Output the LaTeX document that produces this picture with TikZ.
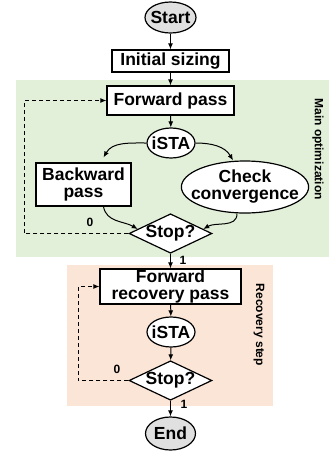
\documentclass[tikz,border=0pt]{standalone}
\usepackage{fontspec}
\setmainfont{Liberation Sans}
\usetikzlibrary{calc,arrows.meta,shapes.geometric}
\definecolor{mainbg}{RGB}{226,240,217}
\definecolor{recbg}{RGB}{251,229,214}
\definecolor{termgray}{RGB}{224,224,224}
\tikzset{
  box/.style={draw, line width=1.2pt, fill=white, inner sep=0pt, align=center, font=\fontsize{17.5}{17}\selectfont\bfseries},
  oval/.style={draw, ellipse, line width=1.2pt, fill=white, inner ysep=0pt, inner xsep=-3pt, align=center, font=\fontsize{17.5}{17}\selectfont\bfseries},
  decide/.style={draw, diamond, aspect=2.1, inner sep=0pt, line width=1.2pt, fill=white, font=\fontsize{17.5}{17}\selectfont\bfseries},
  flow/.style={line width=1pt, -{Latex[length=6pt,width=5pt]}},
  back/.style={flow, dash pattern=on 4pt off 3pt},
  edgelbl/.style={font=\fontsize{12}{12}\selectfont\bfseries},
  steplbl/.style={font=\fontsize{12}{12}\selectfont\bfseries, rotate=-90},
}

\begin{document}
\begin{tikzpicture}[x=1pt, y=-1pt]
  \useasboundingbox (0,0) rectangle (329,451);

  %%%%% BACKGROUNDS %%%%%
  \fill[mainbg] (16,80) rectangle (329,257);
  \fill[recbg] (67,265) rectangle (273,406);
  \node[steplbl] (mainlbl) at (318,149) {Main optimization};
  \node[steplbl] (reclbl) at (259,325) {Recovery step};

  %%%%% MAIN OPTIMIZATION %%%%%
  \node[oval, fill=termgray, minimum width=51pt, minimum height=31pt] (start) at (170.5,17.5) {Start};
  \node[box, minimum width=117pt, minimum height=22pt] (init) at (170.5,61) {Initial sizing};
  \node[box, minimum width=127pt, minimum height=29pt] (fp) at (170.5,100.5) {Forward pass};
  \node[oval, minimum width=48pt, minimum height=30pt] (ista) at (171,143) {iSTA};
  \node[box, minimum width=95pt, minimum height=43pt] (bp) at (83.5,184.5) {Backward\\pass};
  \node[oval, inner xsep=-9pt, minimum width=122pt, minimum height=52pt] (cc) at (245,187) {Check\\convergence};
  \node[decide] (stop) at (170.5,233.5) {Stop?};

  \draw[flow] (start) -- (init);
  \draw[flow] (init) -- (fp);
  \draw[flow] (fp) -- (ista);
  \draw[flow] (ista.west) to[out=180, in=60] ($(bp.north)+(20,-5)$);
  \draw[flow] (ista.east) to[out=0, in=120] ($(cc.north)+(-12,0)$);
  \draw[flow] ($(bp.south)+(20,0)$) to[out=-80, in=150] ($(stop.west)!0.22!(stop.north)$);
  \draw[flow] ($(cc.south)+(-8,0)$) to[out=-90, in=30] ($(stop.east)!0.22!(stop.north)$);
  \draw[back] (stop.west) -- ++(-104,0) |- (fp.west);
  \node[edgelbl] (zero) at (90,222) {0};

  %%%%% RECOVERY STEP %%%%%
  \node[box, minimum width=141pt, minimum height=35pt] (frp) at (170.5,286.5) {Forward\\recovery pass};
  \node[oval, minimum width=48pt, minimum height=30pt] (ista2) at (171,332) {iSTA};
  \node[decide] (stop2) at (170.5,380.5) {Stop?};
  \node[oval, fill=termgray, minimum width=50pt, minimum height=33pt] (end) at (170.5,433.5) {End};

  \draw[flow] (stop) -- (frp);
  \node[edgelbl] (one) at (183,260) {1};
  \draw[flow] (frp) -- (ista2);
  \draw[flow] (ista2) -- (stop2);
  \draw[back] (stop2.west) -- ++(-50,0) |- (frp.west);
  \node[edgelbl] (zero2) at (117,369) {0};
  \draw[flow] (stop2) -- (end);
  \node[edgelbl] (one2) at (184,404) {1};
\end{tikzpicture}
\end{document}
